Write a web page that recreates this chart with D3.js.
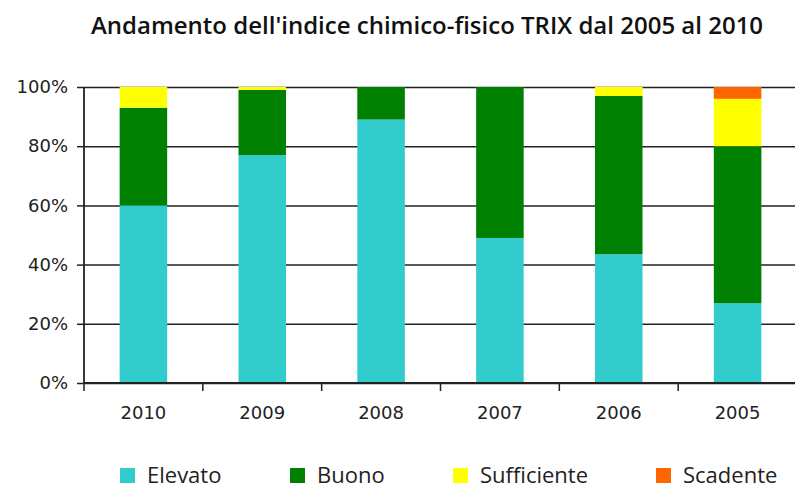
<!DOCTYPE html>
<html>
<head>
<meta charset="utf-8">
<script src="https://cdn.jsdelivr.net/npm/d3@7"></script>
<style>
  body { margin: 0; background: #fff; }
  svg { display: block; }
</style>
</head>
<body>
<div id="chart"></div>
<script>
// data (percent)
const years = ['2010', '2009', '2008', '2007', '2006', '2005']
const elevato = [60, 77, 89, 49, 43.5, 27]
const buono = [33, 22, 11, 51, 53.5, 53]
const sufficiente = [7, 1, 0, 0, 3, 16]
const scadente = [0, 0, 0, 0, 0, 4]
const classes = ['Elevato', 'Buono', 'Sufficiente', 'Scadente']
const yTicks = [0, 20, 40, 60, 80, 100]

const width = 795
const height = 490
const margin = { top: 87, right: -2, bottom: 107, left: 84 }
const innerW = width - margin.left - margin.right
const innerH = height - margin.top - margin.bottom

const svg = d3
  .select('#chart')
  .append('svg')
  .attr('width', width)
  .attr('height', height)

const g = svg
  .append('g')
  .attr('transform', 'translate(' + margin.left + ',' + margin.top + ')')

const rows = years.map((y, i) => ({
  year: y,
  Elevato: elevato[i],
  Buono: buono[i],
  Sufficiente: sufficiente[i],
  Scadente: scadente[i]
}))

const xPositionScale = d3
  .scaleBand()
  .domain(years)
  .range([0, innerW])
  .paddingInner(0.6)
  .paddingOuter(0.3)

const yPositionScale = d3.scaleLinear().domain([0, 100]).range([innerH, 0])

const colorScale = d3
  .scaleOrdinal()
  .domain(classes)
  .range(['#33cccc', '#008000', '#ffff00', '#ff6600'])

const stacked = d3.stack().keys(classes)(rows)

// gridlines
const yAxis = d3
  .axisLeft(yPositionScale)
  .tickValues(yTicks)
  .tickSize(-innerW)
  .tickPadding(16)
  .tickFormat(d => d + '%')

const yG = g.append('g').attr('class', 'y-axis').call(yAxis)
yG.select('.domain').remove()
yG.selectAll('.tick line').attr('stroke', '#222').attr('stroke-width', 1.5)
yG.selectAll('.tick')
  .append('line')
  .attr('x1', -7)
  .attr('x2', 0)
  .attr('stroke', '#222')
  .attr('stroke-width', 1.5)
yG.selectAll('.tick text')
  .attr('font-family', 'DejaVu Sans, sans-serif')
  .attr('font-size', 18)
  .attr('fill', '#222')

// bars
g.selectAll('.layer')
  .data(stacked)
  .enter()
  .append('g')
  .attr('class', 'layer')
  .attr('fill', d => colorScale(d.key))
  .selectAll('rect')
  .data(d => d)
  .enter()
  .append('rect')
  .attr('x', d => xPositionScale(d.data.year))
  .attr('width', xPositionScale.bandwidth())
  .attr('y', d => yPositionScale(d[1]))
  .attr('height', d => yPositionScale(d[0]) - yPositionScale(d[1]))

// y axis line
g.append('line')
  .attr('x1', 0)
  .attr('x2', 0)
  .attr('y1', 0)
  .attr('y2', innerH)
  .attr('stroke', '#222')
  .attr('stroke-width', 1.8)

// x axis
const step = xPositionScale.step()
const xG = g.append('g').attr('transform', 'translate(0,' + innerH + ')')
xG.append('line')
  .attr('x1', 0)
  .attr('x2', innerW)
  .attr('stroke', '#222')
  .attr('stroke-width', 1.8)
xG.selectAll('.xtick')
  .data(years)
  .enter()
  .append('line')
  .attr('class', 'xtick')
  .attr('x1', d => xPositionScale(d) - step * 0.3)
  .attr('x2', d => xPositionScale(d) - step * 0.3)
  .attr('y1', 0)
  .attr('y2', 8)
  .attr('stroke', '#222')
  .attr('stroke-width', 1.5)
xG.selectAll('.xlabel')
  .data(years)
  .enter()
  .append('text')
  .attr('class', 'xlabel')
  .attr('x', d => xPositionScale(d) + xPositionScale.bandwidth() / 2)
  .attr('y', 36)
  .attr('text-anchor', 'middle')
  .attr('font-family', 'DejaVu Sans, sans-serif')
  .attr('font-size', 18)
  .attr('fill', '#222')
  .text(d => d)

// title
svg
  .append('text')
  .attr('x', 427)
  .attr('y', 34)
  .attr('text-anchor', 'middle')
  .attr('font-family', 'Open Sans, sans-serif')
  .attr('font-weight', 600)
  .attr('font-size', 24)
  .attr('fill', '#111')
  .text("Andamento dell'indice chimico-fisico TRIX dal 2005 al 2010")

// legend
const legendX = [120, 290, 453, 656]
const legend = svg
  .selectAll('.legend-entry')
  .data(classes)
  .enter()
  .append('g')
  .attr('class', 'legend-entry')
  .attr('transform', (d, i) => `translate(${legendX[i]},468)`)

legend
  .append('rect')
  .attr('width', 15)
  .attr('height', 15)
  .attr('fill', d => colorScale(d))

legend
  .append('text')
  .attr('x', 27)
  .attr('y', 15)
  .attr('font-family', 'Open Sans, sans-serif')
  .attr('font-size', 22)
  .attr('fill', '#222')
  .text(d => d)
</script>
</body>
</html>
